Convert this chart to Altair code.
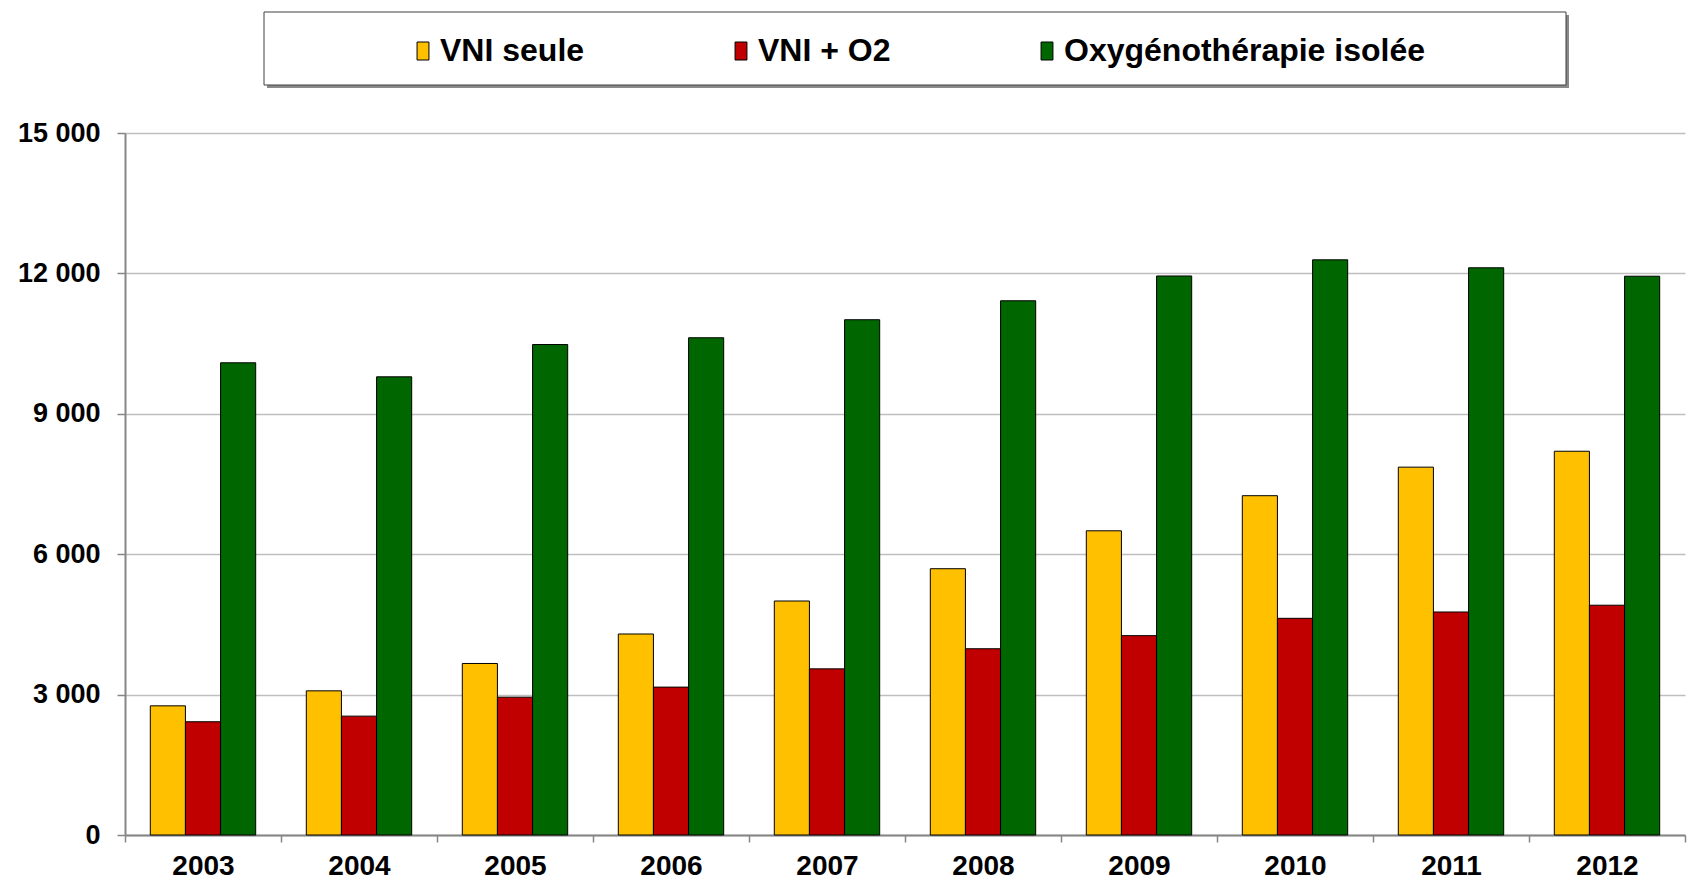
import altair as alt
import pandas as pd

years = ["2003", "2004", "2005", "2006", "2007", "2008", "2009", "2010", "2011", "2012"]
series = ["VNI seule", "VNI + O2", "Oxygénothérapie isolée"]
vni_seule = [2760, 3080, 3665, 4295, 5000, 5690, 6500, 7250, 7860, 8200]
vni_o2 = [2420, 2540, 2945, 3160, 3550, 3980, 4260, 4630, 4765, 4910]
oxygene = [10090, 9790, 10480, 10625, 11010, 11415, 11945, 12290, 12120, 11940]
colors = ["#FFC000", "#C00000", "#006600"]
y_ticks = [0, 3000, 6000, 9000, 12000, 15000]

df = pd.DataFrame({
    "year": years * 3,
    "series": [s for s in series for _ in years],
    "value": vni_seule + vni_o2 + oxygene,
})

FONT = "Liberation Sans"

bars = alt.Chart(df).mark_bar(stroke="black", strokeWidth=1).encode(
    x=alt.X(
        "year:N",
        scale=alt.Scale(paddingInner=0, paddingOuter=0),
        axis=alt.Axis(
            title=None, labelAngle=0, grid=False, tickBand="extent",
            labelFont=FONT, labelFontSize=28, labelFontWeight="bold", labelColor="black",
            labelBaseline="alphabetic", labelPadding=32,
            domainColor="#868686", domainWidth=2,
            tickColor="#868686", tickSize=7, tickWidth=1.5,
        ),
    ),
    xOffset=alt.XOffset("series:N", sort=series,
                        scale=alt.Scale(paddingInner=0, paddingOuter=0.72)),
    y=alt.Y(
        "value:Q",
        scale=alt.Scale(domain=[0, 15000], nice=False),
        axis=alt.Axis(
            title=None, values=y_ticks,
            labelExpr="replace(format(datum.value, ','), ',', ' ')",
            labelFont=FONT, labelFontSize=27, labelFontWeight="bold", labelColor="black",
            labelPadding=17,
            domainColor="#868686", domainWidth=2,
            tickColor="#868686", tickSize=8, tickWidth=1.5,
            gridColor="#BFBFBF", gridWidth=1.5,
        ),
    ),
    color=alt.Color(
        "series:N", sort=series,
        scale=alt.Scale(domain=series, range=colors),
        legend=alt.Legend(
            title=None, orient="none", legendX=282, legendY=-98,
            direction="horizontal", columns=3, columnPadding=140, padding=0,
            labelFont=FONT, labelFontSize=32, labelFontWeight="bold", labelColor="black",
            labelLimit=1000, labelOffset=1,
            symbolType="M-0.66,-1H0.66V1H-0.66Z", symbolSize=324,
            symbolStrokeColor="black", symbolStrokeWidth=1,
        ),
    ),
)

box_data = pd.DataFrame({"k": [0]})
shadow = alt.Chart(box_data).mark_rect(fill="#8a8a8a").encode(
    x=alt.value(142), x2=alt.value(1444), y=alt.value(-118), y2=alt.value(-45)
)
box = alt.Chart(box_data).mark_rect(fill="white", stroke="#404040", strokeWidth=1).encode(
    x=alt.value(139), x2=alt.value(1441), y=alt.value(-121), y2=alt.value(-48)
)

chart = alt.layer(shadow, box, bars).properties(
    width=1560, height=702,
    autosize=alt.AutoSizeParams(type="none"),
    padding={"left": 117, "top": 125, "right": 2, "bottom": 46},
    background="white",
).configure_view(stroke=None)

chart.save("out.html", embed_options={"renderer": "svg", "actions": False})
